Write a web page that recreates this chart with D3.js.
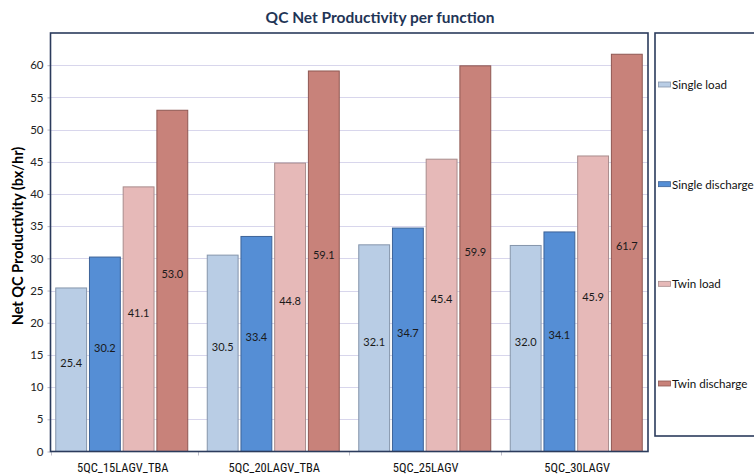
<!DOCTYPE html>
<html>
<head>
<meta charset="utf-8">
<script src="https://cdn.jsdelivr.net/npm/d3@7"></script>
<style>
  html, body { margin: 0; padding: 0; background: #ffffff; }
  svg { display: block; }
</style>
</head>
<body>
<div id="chart"></div>
<script>
// Chart data
const categories = ["5QC_15LAGV_TBA", "5QC_20LAGV_TBA", "5QC_25LAGV", "5QC_30LAGV"];
const seriesNames = ["Single load", "Single discharge", "Twin load", "Twin discharge"];
const singleLoad = [25.4, 30.5, 32.1, 32.0];
const singleDischarge = [30.2, 33.4, 34.7, 34.1];
const twinLoad = [41.1, 44.8, 45.4, 45.9];
const twinDischarge = [53.0, 59.1, 59.9, 61.7];
const yTickValues = [0, 5, 10, 15, 20, 25, 30, 35, 40, 45, 50, 55, 60];

const seriesValues = [singleLoad, singleDischarge, twinLoad, twinDischarge];
const fills = ["#b9cde5", "#558ed5", "#e6b9b8", "#c8827a"];
const strokes = ["#8595ab", "#3d6398", "#a88c8c", "#8e5752"];

const W = 754, H = 476;
const plot = { left: 50.5, top: 33, right: 648, bottom: 451.5 };
const navy = "#2b3b5c";

const svg = d3.select("#chart").append("svg")
  .attr("width", W).attr("height", H);

// Scales
const y = d3.scaleLinear().domain([0, 65]).range([plot.bottom, plot.top]);
const x0 = d3.scaleBand().domain(categories).range([46, 652]).padding(0);
const x1 = d3.scaleBand().domain(seriesNames)
  .range([x0.bandwidth() / 2 - 66.5, x0.bandwidth() / 2 + 66.5])
  .paddingInner(0.055);

// Horizontal gridlines
svg.append("g")
  .selectAll("line")
  .data(yTickValues.filter(d => d > 0))
  .join("line")
  .attr("x1", plot.left).attr("x2", plot.right)
  .attr("y1", d => Math.round(y(d)) + 0.5).attr("y2", d => Math.round(y(d)) + 0.5)
  .attr("stroke", "#d8d6ec").attr("stroke-width", 1);

// Y axis
const yAxis = svg.append("g")
  .attr("transform", `translate(${plot.left},0)`)
  .call(d3.axisLeft(y).tickValues(yTickValues).tickSize(3).tickPadding(4).tickFormat(d3.format("d")));
yAxis.select(".domain").remove();
yAxis.selectAll(".tick line").attr("stroke", "#b8b8c8");
yAxis.selectAll("text")
  .attr("fill", "#222")
  .style("font-family", "Lato, 'Open Sans', sans-serif")
  .style("font-size", "11.5px");

// Bars
const groups = svg.append("g")
  .selectAll("g")
  .data(categories)
  .join("g")
  .attr("transform", d => `translate(${x0(d)},0)`);

groups.selectAll("rect")
  .data((c, ci) => seriesNames.map((s, si) => ({ s, si, v: seriesValues[si][ci] })))
  .join("rect")
  .attr("x", d => x1(d.s) + 0.5)
  .attr("y", d => y(d.v))
  .attr("width", x1.bandwidth() - 1)
  .attr("height", d => y(0) - y(d.v))
  .attr("fill", d => fills[d.si])
  .attr("stroke", d => strokes[d.si])
  .attr("stroke-width", 1);

// Value labels inside the bars
groups.selectAll("text")
  .data((c, ci) => seriesNames.map((s, si) => ({ s, si, v: seriesValues[si][ci] })))
  .join("text")
  .attr("x", d => x1(d.s) + x1.bandwidth() / 2)
  .attr("y", d => (y(0) + y(d.v)) / 2 - 7)
  .attr("text-anchor", "middle")
  .attr("dominant-baseline", "central")
  .attr("fill", "#1a1a1a")
  .style("font-family", "Lato, 'Open Sans', sans-serif")
  .style("font-size", "11px")
  .text(d => d3.format(".1f")(d.v));

// X axis: category labels and tick marks between groups
const xAxisG = svg.append("g");
const boundaries = categories.map(c => x0(c)).slice(1);
xAxisG.selectAll("line.tick")
  .data([plot.left].concat(boundaries))
  .join("line")
  .attr("class", "tick")
  .attr("x1", d => Math.round(d) + 0.5).attr("x2", d => Math.round(d) + 0.5)
  .attr("y1", plot.bottom).attr("y2", plot.bottom + 4)
  .attr("stroke", "#c0c0cc");
xAxisG.selectAll("text")
  .data(categories)
  .join("text")
  .attr("x", d => x0(d) + x0.bandwidth() / 2 + 1)
  .attr("y", 472)
  .attr("text-anchor", "middle")
  .attr("fill", "#111")
  .style("font-family", "'Liberation Sans Narrow', 'Arial Narrow', 'Roboto Condensed', sans-serif")
  .style("font-size", "12.5px")
  .text(d => d);

// Plot area frame
svg.append("rect")
  .attr("x", plot.left).attr("y", plot.top)
  .attr("width", plot.right - plot.left).attr("height", plot.bottom - plot.top)
  .attr("fill", "none")
  .attr("stroke", navy).attr("stroke-width", 1.6);

// Title
svg.append("text")
  .attr("x", 380).attr("y", 23)
  .attr("text-anchor", "middle")
  .attr("fill", "#1f3556")
  .style("font-family", "Lato, 'Open Sans', sans-serif")
  .style("font-weight", "bold")
  .style("font-size", "15.5px")
  .text("QC Net Productivity per function");

// Y axis title
svg.append("text")
  .attr("transform", "translate(23,236) rotate(-90)")
  .attr("text-anchor", "middle")
  .attr("fill", "#000")
  .style("font-family", "Lato, 'Open Sans', sans-serif")
  .style("font-weight", "bold")
  .style("font-size", "14.5px")
  .text("Net QC Productivity (bx/hr)");

// Legend
const legend = svg.append("g");
legend.append("rect")
  .attr("x", 655).attr("y", plot.top)
  .attr("width", 120).attr("height", 436 - plot.top)
  .attr("fill", "#fff")
  .attr("stroke", navy).attr("stroke-width", 1.6);

const legendY = d3.scalePoint().domain(seriesNames).range([84.5, 383.5]);
const items = legend.selectAll("g.item")
  .data(seriesNames)
  .join("g")
  .attr("class", "item")
  .attr("transform", d => `translate(0,${legendY(d)})`);
items.append("rect")
  .attr("x", 658.5).attr("y", -2.5)
  .attr("width", 12).attr("height", 5)
  .attr("fill", (d, i) => fills[i])
  .attr("stroke", (d, i) => strokes[i])
  .attr("stroke-width", 0.8);
items.append("text")
  .attr("x", 672).attr("y", 0)
  .attr("dominant-baseline", "central")
  .attr("fill", "#111")
  .style("font-family", "Lato, 'Open Sans', sans-serif")
  .style("font-size", "11.6px")
  .text(d => d);
</script>
</body>
</html>
